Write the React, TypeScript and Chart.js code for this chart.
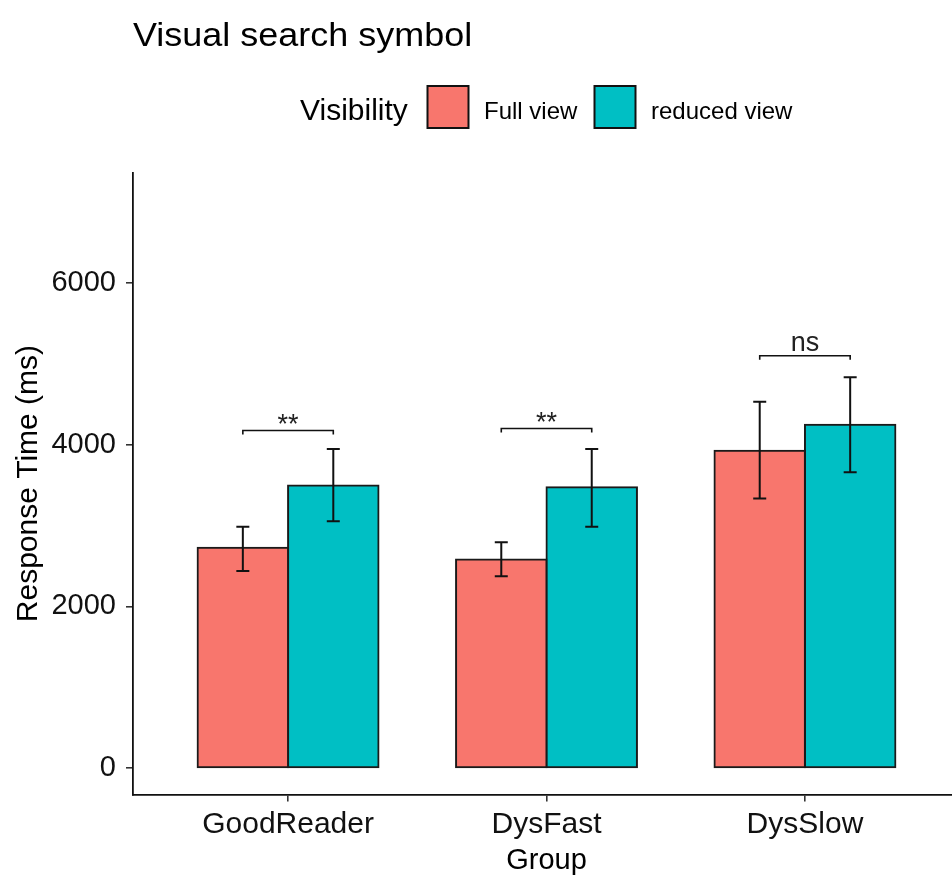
import React, { useEffect, useRef } from 'react';
import { Chart, registerables } from 'chart.js';

Chart.register(...registerables);

const chartTitle = 'Visual search symbol';
const legendTitle = 'Visibility';
const groups = ['GoodReader', 'DysFast', 'DysSlow'];
const seriesNames = ['Full view', 'reduced view'];
const fullMeans = [2725, 2580, 3925];
const fullLow = [2437, 2373, 3335];
const fullHigh = [2985, 2793, 4532];
const reducedMeans = [3495, 3472, 4247];
const reducedLow = [3052, 2983, 3660];
const reducedHigh = [3945, 3945, 4835];
const yTicks = [0, 2000, 4000, 6000];
const sigLabels = ['**', '**', 'ns'];
const sigHeights = [4175, 4200, 5100];
const yTitle = 'Response Time (ms)';
const xTitle = 'Group';

const FONT = '"Liberation Sans", Arial, Helvetica, sans-serif';
const COLORS = ['#F8766D', '#00BFC4'];

const decorPlugin = {
  id: 'decor',
  beforeDraw(chart: any) {
    const ctx = chart.ctx;
    ctx.save();
    ctx.fillStyle = '#ffffff';
    ctx.fillRect(0, 0, chart.width, chart.height);
    ctx.restore();
  },
  afterDatasetsDraw(chart: any) {
    const ctx = chart.ctx;
    const ys = chart.scales.y;
    const lows = [fullLow, reducedLow];
    const highs = [fullHigh, reducedHigh];
    ctx.save();
    ctx.strokeStyle = '#111';
    ctx.lineWidth = 2;
    chart.data.datasets.forEach((_ds: any, d: number) => {
      const meta = chart.getDatasetMeta(d);
      meta.data.forEach((el: any, i: number) => {
        const x = el.x;
        const y1 = ys.getPixelForValue(lows[d][i]);
        const y2 = ys.getPixelForValue(highs[d][i]);
        ctx.beginPath();
        ctx.moveTo(x, y1);
        ctx.lineTo(x, y2);
        ctx.moveTo(x - 6.5, y1);
        ctx.lineTo(x + 6.5, y1);
        ctx.moveTo(x - 6.5, y2);
        ctx.lineTo(x + 6.5, y2);
        ctx.stroke();
      });
    });
    const m0 = chart.getDatasetMeta(0);
    const m1 = chart.getDatasetMeta(1);
    ctx.lineWidth = 1.6;
    sigLabels.forEach((lab, i) => {
      const xa = m0.data[i].x;
      const xb = m1.data[i].x;
      const yy = ys.getPixelForValue(sigHeights[i]);
      ctx.beginPath();
      ctx.moveTo(xa, yy + 4);
      ctx.lineTo(xa, yy);
      ctx.lineTo(xb, yy);
      ctx.lineTo(xb, yy + 4);
      ctx.stroke();
      ctx.font = `27px ${FONT}`;
      ctx.fillStyle = '#222';
      ctx.textAlign = 'center';
      ctx.textBaseline = 'alphabetic';
      const m = ctx.measureText(lab);
      const gap = lab.includes('*') ? 7 : 4.5;
      ctx.fillText(lab, (xa + xb) / 2, yy - gap - m.actualBoundingBoxDescent);
    });
    ctx.restore();
  },
  afterDraw(chart: any) {
    const ctx = chart.ctx;
    ctx.save();
    ctx.fillStyle = '#000';
    ctx.textBaseline = 'alphabetic';
    // title
    ctx.save();
    ctx.translate(133, 46);
    ctx.scale(1.09, 1);
    ctx.font = `33px ${FONT}`;
    ctx.textAlign = 'left';
    ctx.fillText(chartTitle, 0, 0);
    ctx.restore();
    // legend
    ctx.font = `30px ${FONT}`;
    ctx.textAlign = 'left';
    ctx.fillText(legendTitle, 300, 120);
    const boxX = [427.5, 594.5];
    const labX = [484, 651];
    chart.data.datasets.forEach((ds: any, d: number) => {
      ctx.fillStyle = ds.backgroundColor;
      ctx.fillRect(boxX[d], 86, 41, 42);
      ctx.strokeStyle = '#111';
      ctx.lineWidth = 2;
      ctx.strokeRect(boxX[d], 86, 41, 42);
      ctx.fillStyle = '#000';
      ctx.font = `24px ${FONT}`;
      ctx.fillText(ds.label, labX[d], 118.5);
    });
    // axis titles
    ctx.font = `30px ${FONT}`;
    ctx.save();
    ctx.translate(37, (chart.chartArea.top + chart.chartArea.bottom) / 2);
    ctx.rotate(-Math.PI / 2);
    ctx.textAlign = 'center';
    ctx.fillText(yTitle, 0, 0);
    ctx.restore();
    ctx.font = `29px ${FONT}`;
    ctx.textAlign = 'center';
    ctx.fillText(xTitle, chart.scales.x.getPixelForValue(1), 868.5);
    ctx.restore();
  },
};

export default function App() {
  const ref = useRef<HTMLCanvasElement | null>(null);
  useEffect(() => {
    const canvas = ref.current;
    if (!canvas) return;
    const chart = new Chart(canvas, {
      type: 'bar',
      data: {
        datasets: [
          {
            label: seriesNames[0],
            data: fullMeans.map((v, i) => ({ x: i, y: v })),
            backgroundColor: COLORS[0],
            borderColor: '#1a1a1a',
            borderWidth: 2,
            borderSkipped: false,
            inflateAmount: 1,
          },
          {
            label: seriesNames[1],
            data: reducedMeans.map((v, i) => ({ x: i, y: v })),
            backgroundColor: COLORS[1],
            borderColor: '#1a1a1a',
            borderWidth: 2,
            borderSkipped: false,
            inflateAmount: 1,
          },
        ],
      } as any,
      options: {
        responsive: false,
        animation: false,
        layout: { padding: { top: 172.6, left: 0, right: 0, bottom: 0 } },
        plugins: {
          legend: { display: false },
          title: { display: false },
          tooltip: { enabled: false },
        },
        datasets: { bar: { categoryPercentage: 0.7, barPercentage: 1 } },
        scales: {
          x: {
            type: 'linear',
            min: -0.6,
            max: 2.569,
            offset: false,
            afterBuildTicks: (s: any) => {
              s.ticks = groups.map((_g, i) => ({ value: i }));
            },
            afterFit: (s: any) => {
              s.height = 83.5;
            },
            ticks: {
              callback: (v: any) => groups[v] ?? '',
              font: { family: FONT, size: 30 },
              color: '#111',
              padding: 5,
              maxRotation: 0,
              autoSkip: false,
            },
            grid: {
              offset: false,
              drawOnChartArea: false,
              drawTicks: true,
              tickLength: 7,
              tickColor: '#333',
              lineWidth: 1.6,
            },
            border: { display: true, color: '#111', width: 1.8 },
          },
          y: {
            type: 'linear',
            min: -328,
            max: 7366,
            afterBuildTicks: (s: any) => {
              s.ticks = yTicks.map((v) => ({ value: v }));
            },
            afterFit: (s: any) => {
              s.width = 133;
            },
            ticks: {
              callback: (v: any) => String(v),
              font: { family: FONT, size: 29 },
              color: '#111',
              padding: 10,
            },
            grid: {
              drawOnChartArea: false,
              drawTicks: true,
              tickLength: 7,
              tickColor: '#333',
              lineWidth: 1.6,
            },
            border: { display: true, color: '#111', width: 1.8 },
          },
        },
      } as any,
      plugins: [decorPlugin],
    });
    return () => chart.destroy();
  }, []);
  return (
    <div style={{ position: 'absolute', left: 0, top: 0, width: 952, height: 878, overflow: 'hidden', background: '#fff' }}>
      <canvas ref={ref} width={952} height={878} style={{ display: 'block', width: 952, height: 878 }} />
    </div>
  );
}
